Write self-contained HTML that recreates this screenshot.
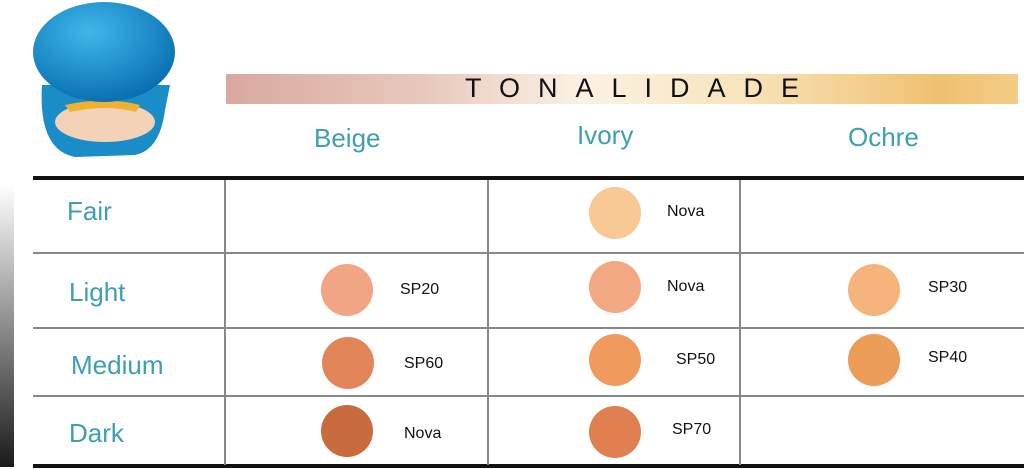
<!DOCTYPE html>
<html><head><style>
body{margin:0;width:1024px;height:469px;background:#fff;position:relative;overflow:hidden;font-family:"Liberation Sans",sans-serif}
.a{position:absolute}
.t{position:absolute;color:#3d9fb0;font-size:26px;white-space:nowrap}
.c{position:absolute;width:52px;height:52px;border-radius:50%}
.l{position:absolute;font-size:16px;color:#111;white-space:nowrap}
</style></head><body>
<svg class="a" style="left:0;top:0" width="200" height="170">
<defs><radialGradient id="g" cx="40%" cy="30%" r="70%"><stop offset="0" stop-color="#3fb8ea"/><stop offset="1" stop-color="#0a70b2"/></radialGradient></defs>
<path d="M42 85 Q38 150 75 157 L135 155 Q160 150 165 110 L170 85Z" fill="#1a8cc8"/>
<ellipse cx="105" cy="122" rx="50" ry="20" fill="#f3d2b8"/>
<path d="M65 105 Q105 96 140 105 L136 112 Q105 104 70 112Z" fill="#f0b030"/>
<ellipse cx="104" cy="52" rx="71" ry="50" fill="url(#g)"/>
</svg>
<div class="a" style="left:226px;top:74px;width:792px;height:30px;background:linear-gradient(90deg,#d9a8a0 0%,#e8c8bc 25%,#fbf2e4 45%,#f8e4bc 65%,#f0c070 90%,#f2cc88 100%)"></div>
<div class="a" style="left:465px;top:73px;font-size:27px;letter-spacing:18px;color:#111">TONALIDADE</div>
<div class="t" style="left:314px;top:123px">Beige</div>
<div class="t" style="left:577px;top:120px">Ivory</div>
<div class="t" style="left:848px;top:122px">Ochre</div>
<div class="a" style="left:0;top:185px;width:14px;height:282px;background:linear-gradient(#fff,#1a1a1a)"></div>
<div class="a" style="left:33px;top:176px;width:991px;height:4px;background:#111"></div>
<div class="a" style="left:33px;top:464px;width:991px;height:4px;background:#111"></div>
<div class="a" style="left:33px;top:252px;width:991px;height:2px;background:#888"></div>
<div class="a" style="left:33px;top:327px;width:991px;height:2px;background:#888"></div>
<div class="a" style="left:33px;top:395px;width:991px;height:2px;background:#888"></div>
<div class="a" style="left:224px;top:180px;width:2px;height:285px;background:#888"></div>
<div class="a" style="left:487px;top:180px;width:2px;height:285px;background:#888"></div>
<div class="a" style="left:739px;top:180px;width:2px;height:285px;background:#888"></div>
<div class="t" style="left:67px;top:196px">Fair</div>
<div class="t" style="left:69px;top:277px">Light</div>
<div class="t" style="left:71px;top:350px">Medium</div>
<div class="t" style="left:69px;top:418px">Dark</div>
<div class="c" style="left:589px;top:187px;background:#f8c994"></div><div class="l" style="left:667px;top:203px">Nova</div>
<div class="c" style="left:321px;top:264px;background:#f1a584"></div><div class="l" style="left:400px;top:281px">SP20</div>
<div class="c" style="left:589px;top:261px;background:#f2a882"></div><div class="l" style="left:667px;top:278px">Nova</div>
<div class="c" style="left:848px;top:264px;background:#f4b47c"></div><div class="l" style="left:928px;top:279px">SP30</div>
<div class="c" style="left:322px;top:337px;background:#e2865a"></div><div class="l" style="left:404px;top:355px">SP60</div>
<div class="c" style="left:589px;top:334px;background:#f09a5e"></div><div class="l" style="left:676px;top:351px">SP50</div>
<div class="c" style="left:848px;top:334px;background:#ec9c56"></div><div class="l" style="left:928px;top:349px">SP40</div>
<div class="c" style="left:321px;top:405px;background:#c86c3e"></div><div class="l" style="left:404px;top:425px">Nova</div>
<div class="c" style="left:589px;top:406px;background:#e08050"></div><div class="l" style="left:672px;top:421px">SP70</div>
</body></html>
